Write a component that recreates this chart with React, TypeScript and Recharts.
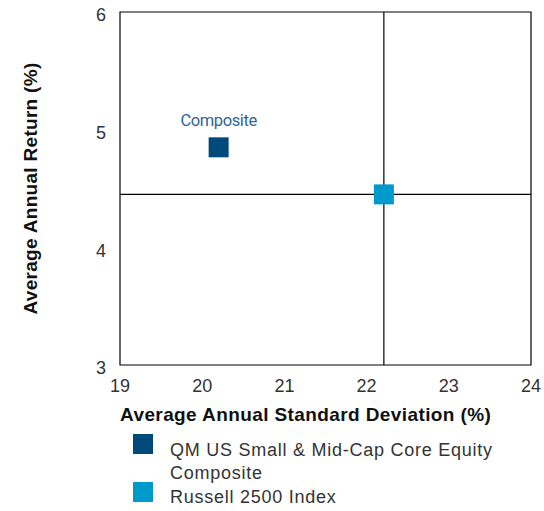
import {
  ScatterChart,
  Scatter,
  XAxis,
  YAxis,
  ReferenceLine,
  ReferenceArea,
  Legend,
} from "recharts";

// values
const composite = [{ sd: 20.2, ret: 4.85 }];
const benchmark = [{ sd: 22.21, ret: 4.45 }];
const xTicks = [19, 20, 21, 22, 23, 24];
const yTicks = [3, 4, 5, 6];

const COMPOSITE_COLOR = "#004a7b";
const BENCH_COLOR = "#0099cc";
const FONT = "'Liberation Sans', Arial, sans-serif";

const legendItems = [
  { name: "QM US Small & Mid-Cap Core Equity Composite", color: COMPOSITE_COLOR },
  { name: "Russell 2500 Index", color: BENCH_COLOR },
];

function SquareShape(props: any) {
  const { cx, cy, fill } = props;
  return <rect x={cx - 10} y={cy - 10} width={20} height={20} fill={fill} />;
}

function CompositeShape(props: any) {
  const { cx, cy, fill } = props;
  return (
    <g>
      <text
        x={cx}
        y={cy - 21}
        textAnchor="middle"
        fontFamily="Roboto, sans-serif"
        fontSize={16.5}
        fill="#2d6695"
        style={{ letterSpacing: -0.4 }}
      >
        Composite
      </text>
      <rect x={cx - 10} y={cy - 10} width={20} height={20} fill={fill} />
    </g>
  );
}

function LegendContent() {
  // rows: first item wraps onto two lines
  const tops = [0, 48];
  return (
    <div
      style={{
        position: "relative",
        height: 77,
        width: 544,
        fontFamily: FONT,
        fontSize: 18,
        letterSpacing: 0.75,
        color: "#333",
      }}
    >
      {legendItems.map((it, i) => (
        <div key={it.name} style={{ position: "absolute", left: 133, top: tops[i] }}>
          <div style={{ position: "absolute", left: 0, top: 0, width: 20, height: 20, background: it.color }} />
          <div
            style={{
              position: "absolute",
              left: 37,
              top: i === 0 ? 5 : 4,
              width: 360,
              lineHeight: "23px",
              whiteSpace: "normal",
            }}
          >
            {it.name}
          </div>
        </div>
      ))}
    </div>
  );
}

export default function App() {
  return (
    <div style={{ position: "absolute", left: 0, top: 0, background: "#fff" }}>
      <ScatterChart
        width={544}
        height={511}
        margin={{ top: 12, right: 13, left: 0, bottom: 0 }}
      >
        <XAxis
          type="number"
          dataKey="sd"
          domain={[19, 24]}
          ticks={xTicks}
          interval={0}
          axisLine={false}
          tickLine={false}
          tickSize={0}
          tickMargin={14}
          height={69}
          tick={{ fontFamily: FONT, fontSize: 18, fill: "#333" }}
          label={(p: any) => {
            const vb = p.viewBox;
            return (
              <text
                x={vb.x}
                y={vb.y + 56}
                fontFamily={FONT}
                fontSize={19}
                fontWeight="bold"
                fill="#111"
                style={{ letterSpacing: 0.4 }}
              >
                Average Annual Standard Deviation (%)
              </text>
            );
          }}
        />
        <YAxis
          type="number"
          dataKey="ret"
          domain={[3, 6]}
          ticks={yTicks}
          interval={0}
          axisLine={false}
          tickLine={false}
          tickSize={0}
          tickMargin={14}
          width={120}
          tick={{ fontFamily: FONT, fontSize: 18, fill: "#333", dy: 3 }}
          label={(p: any) => {
            const vb = p.viewBox;
            const cx = 30;
            const cy = vb.y + vb.height / 2;
            return (
              <text
                x={cx}
                y={cy}
                transform={`rotate(-90 ${cx} ${cy})`}
                textAnchor="middle"
                dominantBaseline="central"
                fontFamily={FONT}
                fontSize={19}
                fontWeight="bold"
                fill="#111"
                style={{ letterSpacing: 0.3 }}
              >
                Average Annual Return (%)
              </text>
            );
          }}
        />
        <ReferenceArea x1={19} x2={24} y1={3} y2={6} fill="none" stroke="#000" strokeWidth={1.2} ifOverflow="visible" />
        <ReferenceLine x={benchmark[0].sd} stroke="#000" strokeWidth={1.2} />
        <ReferenceLine y={benchmark[0].ret} stroke="#000" strokeWidth={1.2} />
        <Legend content={<LegendContent />} verticalAlign="bottom" align="left" />
        <Scatter
          name="QM US Small & Mid-Cap Core Equity Composite"
          data={composite}
          fill={COMPOSITE_COLOR}
          shape={<CompositeShape />}
          isAnimationActive={false}
        />
        <Scatter
          name="Russell 2500 Index"
          data={benchmark}
          fill={BENCH_COLOR}
          shape={<SquareShape />}
          isAnimationActive={false}
        />
      </ScatterChart>
    </div>
  );
}
